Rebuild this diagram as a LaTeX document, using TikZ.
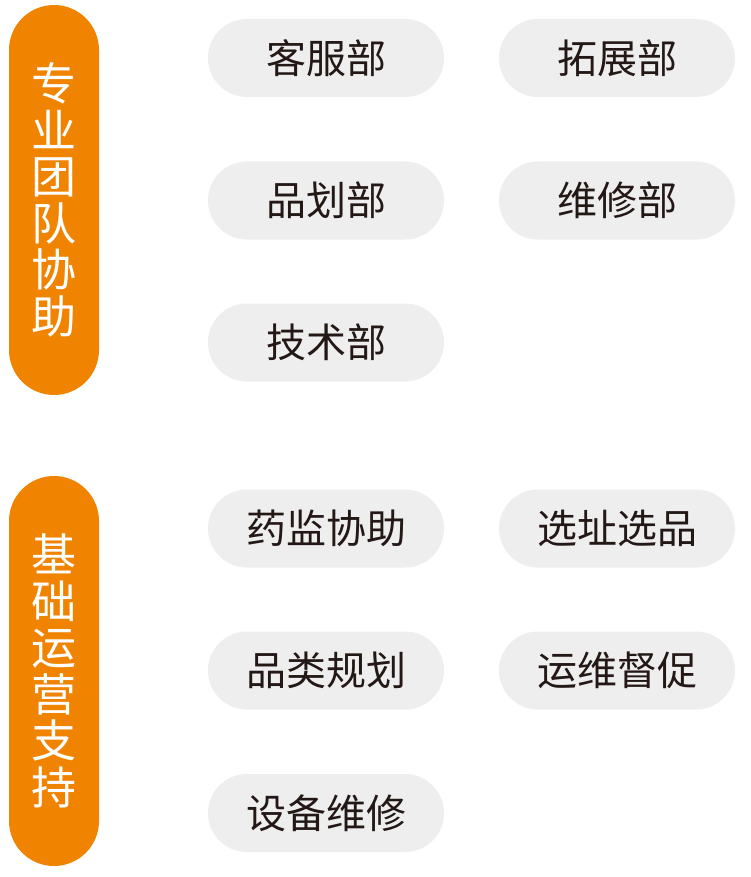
\documentclass[tikz,border=0pt]{standalone}
\usepackage{fontspec}
\newfontfamily\cjk{Noto Sans CJK SC}
\definecolor{barorange}{HTML}{F08300}
\definecolor{pillgray}{HTML}{EEEEEE}
\definecolor{txtdark}{HTML}{231815}
\begin{document}
\begin{tikzpicture}[x=1pt,y=-1pt,
  bar/.style={fill=barorange,draw=none,rounded corners=45pt,inner sep=0pt,
    minimum width=90pt,text=white,align=center,
    font=\cjk\fontsize{45pt}{46.5pt}\selectfont},
  pill/.style={fill=pillgray,draw=none,rounded corners=39pt,inner sep=0pt,
    minimum width=236pt,minimum height=78pt,text=txtdark,
    font=\cjk\fontsize{40pt}{42pt}\selectfont}]
\useasboundingbox (0,0) rectangle (751,877);
\fill[white] (0,0) rectangle (751,877);
\node[bar,minimum height=390pt] (b1) at (54,200) {专\\业\\团\\队\\协\\助};
\node[bar,minimum height=390pt] (b2) at (54,671) {基\\础\\运\\营\\支\\持};
\node[pill] (p1) at (326,58) {客服部};
\node[pill] (p2) at (617,58) {拓展部};
\node[pill] (p3) at (326,200.5) {品划部};
\node[pill] (p4) at (617,200.5) {维修部};
\node[pill] (p5) at (326,342.5) {技术部};
\node[pill] (p6) at (326,528.5) {药监协助};
\node[pill] (p7) at (617,528.5) {选址选品};
\node[pill] (p8) at (326,670.5) {品类规划};
\node[pill] (p9) at (617,670.5) {运维督促};
\node[pill] (p10) at (326,813) {设备维修};
\end{tikzpicture}
\end{document}
